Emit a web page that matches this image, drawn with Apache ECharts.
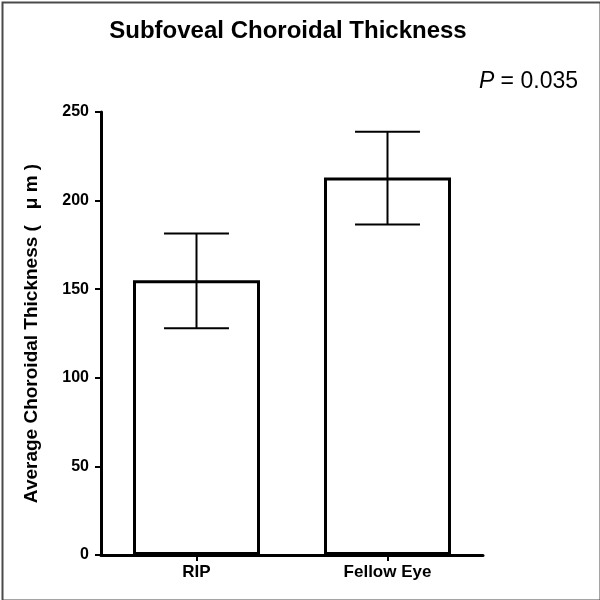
<!DOCTYPE html>
<html>
<head>
<meta charset="utf-8">
<script src="https://cdn.jsdelivr.net/npm/echarts@6/dist/echarts.min.js"></script>
<style>html,body{margin:0;padding:0;background:#fff}#c{width:600px;height:600px}</style>
</head>
<body>
<div id="c"></div>
<script>
var categories = ['RIP', 'Fellow Eye'];
var means = [155, 213];
var lowerErr = [128, 186.5];
var upperErr = [181.5, 238.8];
var yTicks = [0, 50, 100, 150, 200, 250];

var chart = echarts.init(document.getElementById('c'), null, {renderer: 'canvas'});
var font = '"Liberation Sans", Arial, sans-serif';
var errData = categories.map(function (c, i) { return [i, lowerErr[i], upperErr[i]]; });

chart.setOption({
  backgroundColor: '#fff',
  animation: false,
  grid: {left: 101, right: 117, top: 112, bottom: 45, containLabel: false},
  graphic: [
    {type: 'rect', left: 0, top: 0, shape: {x: 1, y: 1, width: 598, height: 598},
     style: {fill: 'none', stroke: '#4a4a4a', lineWidth: 2}, z: 100},
    {type: 'text', x: 288, y: 31,
     style: {text: 'Subfoveal Choroidal Thickness', fill: '#000', font: 'bold 24px ' + font,
             textAlign: 'center', textVerticalAlign: 'middle'}},
    {type: 'text', x: 578, y: 82,
     style: {text: '{i|P} = 0.035', textAlign: 'right', textVerticalAlign: 'middle',
             font: '23px ' + font, fill: '#000',
             rich: {i: {fontStyle: 'italic', fontSize: 23, fontFamily: font, fill: '#000'}}}}
  ],
  xAxis: {
    type: 'category',
    data: categories,
    boundaryGap: true,
    axisLine: {show: true, lineStyle: {color: '#000', width: 3}},
    axisTick: {show: true, alignWithLabel: true, length: 6, lineStyle: {color: '#000', width: 2}},
    axisLabel: {color: '#000', fontWeight: 'bold', fontSize: 17, fontFamily: font, margin: 9}
  },
  yAxis: {
    type: 'value',
    min: 0, max: 250, interval: 50,
    name: 'Average Choroidal Thickness (   μ m )',
    nameLocation: 'middle',
    nameGap: 60,
    nameTextStyle: {color: '#000', fontWeight: 'bold', fontSize: 19, fontFamily: font},
    splitLine: {show: false},
    axisLine: {show: true, lineStyle: {color: '#000', width: 3}},
    axisTick: {show: true, length: 6, lineStyle: {color: '#000', width: 2}},
    axisLabel: {color: '#000', fontWeight: 'bold', fontSize: 16, fontFamily: font, margin: 12,
      formatter: function (v) { return yTicks.indexOf(v) >= 0 ? String(v) : ''; }}
  },
  series: [
    {
      type: 'bar',
      data: means,
      barWidth: 127,
      itemStyle: {color: '#fff', borderColor: '#000', borderWidth: 3},
      z: 2
    },
    {
      type: 'custom',
      data: errData,
      z: 5,
      renderItem: function (params, api) {
        var x = api.value(0);
        var lo = api.coord([x, api.value(1)]);
        var hi = api.coord([x, api.value(2)]);
        var hw = api.size([1, 0])[0] * 0.17;
        var st = {stroke: '#000', lineWidth: 2};
        return {type: 'group', children: [
          {type: 'line', shape: {x1: hi[0], y1: hi[1], x2: lo[0], y2: lo[1]}, style: st},
          {type: 'line', shape: {x1: hi[0] - hw, y1: hi[1], x2: hi[0] + hw, y2: hi[1]}, style: st},
          {type: 'line', shape: {x1: lo[0] - hw, y1: lo[1], x2: lo[0] + hw, y2: lo[1]}, style: st}
        ]};
      }
    }
  ]
});
</script>
</body>
</html>
